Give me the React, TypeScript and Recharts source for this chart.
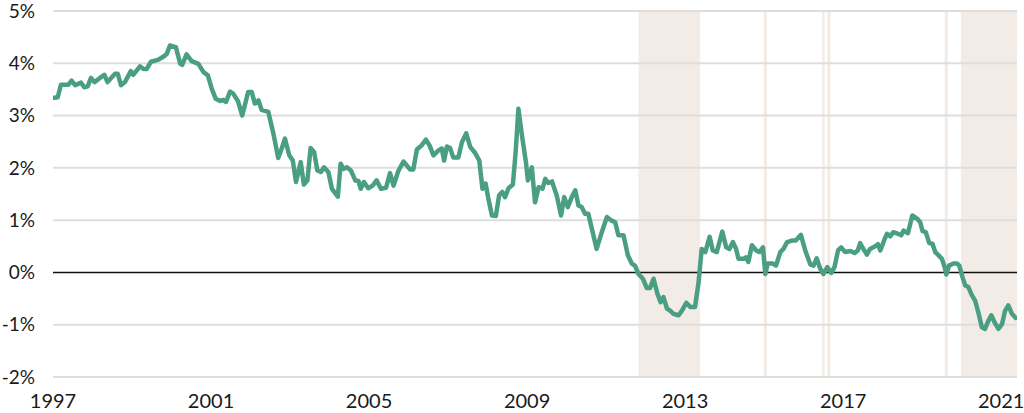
import React from 'react';
import { LineChart, Line, XAxis, YAxis, ReferenceLine, ReferenceArea } from 'recharts';

const years = [
  1997.03, 1997.12, 1997.20, 1997.39, 1997.47, 1997.56, 1997.71, 1997.79, 1997.88, 1997.96,
  1998.05, 1998.19, 1998.30, 1998.38, 1998.57, 1998.64, 1998.72, 1998.82, 1998.97, 1999.03,
  1999.20, 1999.29, 1999.37, 1999.48, 1999.67, 1999.82, 1999.88, 1999.96, 2000.11, 2000.22,
  2000.27, 2000.38, 2000.51, 2000.68, 2000.81, 2000.92, 2001.02, 2001.12, 2001.23, 2001.31,
  2001.38, 2001.48, 2001.56, 2001.68, 2001.79, 2001.94, 2002.03, 2002.11, 2002.20, 2002.28,
  2002.45, 2002.58, 2002.70, 2002.79, 2002.87, 2002.98, 2003.07, 2003.15, 2003.27, 2003.35,
  2003.44, 2003.52, 2003.61, 2003.69, 2003.78, 2003.86, 2003.97, 2004.06, 2004.21, 2004.28,
  2004.35, 2004.44, 2004.54, 2004.65, 2004.73, 2004.79, 2004.87, 2004.98, 2005.09, 2005.19,
  2005.30, 2005.43, 2005.53, 2005.62, 2005.74, 2005.87, 2006.04, 2006.12, 2006.21, 2006.33,
  2006.44, 2006.53, 2006.63, 2006.75, 2006.84, 2006.90, 2006.97, 2007.05, 2007.13, 2007.26,
  2007.35, 2007.46, 2007.56, 2007.68, 2007.79, 2007.87, 2007.95, 2008.02, 2008.11, 2008.21,
  2008.29, 2008.37, 2008.44, 2008.53, 2008.64, 2008.71, 2008.78, 2008.87, 2008.97, 2009.02,
  2009.12, 2009.20, 2009.29, 2009.39, 2009.46, 2009.54, 2009.63, 2009.75, 2009.86, 2009.94,
  2010.03, 2010.13, 2010.22, 2010.30, 2010.38, 2010.47, 2010.55, 2010.76, 2010.89, 2011.02,
  2011.14, 2011.23, 2011.31, 2011.44, 2011.55, 2011.65, 2011.73, 2011.82, 2011.93, 2012.03,
  2012.11, 2012.20, 2012.30, 2012.38, 2012.45, 2012.54, 2012.62, 2012.70, 2012.83, 2012.92,
  2013.03, 2013.13, 2013.25, 2013.34, 2013.42, 2013.51, 2013.62, 2013.70, 2013.80, 2013.94,
  2014.04, 2014.12, 2014.21, 2014.29, 2014.35, 2014.48, 2014.54, 2014.60, 2014.69, 2014.80,
  2014.88, 2014.97, 2015.03, 2015.09, 2015.22, 2015.30, 2015.41, 2015.49, 2015.58, 2015.70,
  2015.80, 2015.93, 2016.04, 2016.17, 2016.25, 2016.33, 2016.42, 2016.50, 2016.60, 2016.70,
  2016.78, 2016.87, 2016.95, 2017.05, 2017.18, 2017.29, 2017.37, 2017.43, 2017.51, 2017.60,
  2017.68, 2017.81, 2017.88, 2017.94, 2018.05, 2018.11, 2018.19, 2018.27, 2018.38, 2018.47,
  2018.53, 2018.64, 2018.75, 2018.87, 2018.95, 2019.01, 2019.09, 2019.18, 2019.26, 2019.33,
  2019.41, 2019.50, 2019.57, 2019.61, 2019.68, 2019.79, 2019.88, 2019.94, 2020.02, 2020.09,
  2020.17, 2020.26, 2020.34, 2020.43, 2020.51, 2020.59, 2020.66, 2020.75, 2020.83, 2020.93,
  2021.02, 2021.10, 2021.18, 2021.27, 2021.37,
];

const rates = [
  3.34, 3.35, 3.59, 3.59, 3.67, 3.58, 3.63, 3.54, 3.56, 3.72,
  3.64, 3.72, 3.78, 3.64, 3.80, 3.80, 3.58, 3.64, 3.85, 3.78,
  3.94, 3.89, 3.89, 4.03, 4.07, 4.14, 4.18, 4.34, 4.31, 3.99,
  3.97, 4.17, 4.04, 3.99, 3.83, 3.77, 3.51, 3.32, 3.28, 3.30,
  3.26, 3.46, 3.42, 3.28, 3.00, 3.45, 3.45, 3.23, 3.29, 3.11,
  3.07, 2.65, 2.19, 2.37, 2.56, 2.24, 2.14, 1.73, 2.11, 1.68,
  1.76, 2.38, 2.30, 1.95, 1.92, 2.01, 1.92, 1.60, 1.45, 2.08,
  1.98, 2.01, 1.95, 1.76, 1.75, 1.60, 1.73, 1.61, 1.66, 1.76,
  1.60, 1.62, 1.90, 1.66, 1.94, 2.12, 1.97, 1.97, 2.35, 2.43,
  2.54, 2.43, 2.24, 2.33, 2.37, 2.14, 2.41, 2.38, 2.20, 2.20,
  2.49, 2.66, 2.40, 2.29, 2.14, 1.60, 1.70, 1.41, 1.09, 1.08,
  1.47, 1.54, 1.44, 1.61, 1.68, 2.30, 3.13, 2.62, 2.11, 1.76,
  2.01, 1.34, 1.63, 1.60, 1.79, 1.71, 1.74, 1.47, 1.09, 1.44,
  1.25, 1.44, 1.57, 1.28, 1.25, 1.12, 1.12, 0.45, 0.77, 1.06,
  0.99, 0.96, 0.71, 0.71, 0.33, 0.17, 0.13, -0.03, -0.12, -0.30,
  -0.30, -0.12, -0.41, -0.57, -0.47, -0.69, -0.73, -0.79, -0.82, -0.73,
  -0.58, -0.66, -0.66, -0.19, 0.45, 0.39, 0.68, 0.42, 0.39, 0.78,
  0.48, 0.45, 0.58, 0.45, 0.26, 0.26, 0.29, 0.20, 0.52, 0.42,
  0.39, 0.48, -0.03, 0.17, 0.17, 0.13, 0.39, 0.45, 0.58, 0.61,
  0.61, 0.72, 0.42, 0.15, 0.13, 0.27, 0.07, -0.03, 0.10, -0.01,
  0.10, 0.42, 0.48, 0.39, 0.41, 0.37, 0.42, 0.56, 0.45, 0.34,
  0.45, 0.50, 0.54, 0.42, 0.64, 0.74, 0.69, 0.77, 0.74, 0.71,
  0.80, 0.75, 1.09, 1.03, 0.96, 0.79, 0.77, 0.56, 0.55, 0.39,
  0.33, 0.26, 0.10, -0.04, 0.13, 0.17, 0.17, 0.13, -0.09, -0.25,
  -0.28, -0.44, -0.54, -0.79, -1.05, -1.08, -0.95, -0.82, -0.95, -1.08,
  -0.99, -0.73, -0.63, -0.79, -0.87,
];

// Periods shaded in the chart (start / end, decimal years)
const shadeStart = [2011.82, 2014.99, 2016.47, 2016.60, 2019.57, 2019.98];
const shadeEnd = [2013.38, 2015.07, 2016.53, 2016.68, 2019.65, 2021.4];

const xTicks = [1997, 2001, 2005, 2009, 2013, 2017, 2021];
const yTicks = [-2, -1, 0, 1, 2, 3, 4, 5];

const data = years.map((t, i) => ({ t, v: rates[i] }));

const FONT = 'Lato, "Open Sans", sans-serif';

export default function App() {
  return (
    <div style={{ position: 'absolute', left: 0, top: 0, width: 1024, height: 413, background: '#fff' }}>
      <LineChart width={1024} height={413} data={data} margin={{ top: 11, right: 7, bottom: 0, left: 0 }}>
        {shadeStart.map((s, i) => (
          <ReferenceArea key={`a${i}`} x1={s} x2={shadeEnd[i]} y1={-2} y2={5} fill="#f3ebe5" fillOpacity={1} stroke="none" ifOverflow="hidden" />
        ))}
        {yTicks.filter((y) => y !== 0).map((y) => (
          <ReferenceLine key={`g${y}`} y={y} stroke="#dedede" strokeWidth={2} />
        ))}
        <XAxis
          dataKey="t"
          type="number"
          domain={[1997, 2021.4]}
          ticks={xTicks}
          allowDataOverflow
          axisLine={false}
          tickLine={false}
          tickSize={0}
          tickMargin={17}
          height={36}
          tick={{ fill: '#1a1a1a', fontSize: 20, fontFamily: FONT }}
          interval={0}
        />
        <YAxis
          type="number"
          domain={[-2, 5]}
          ticks={yTicks}
          tickFormatter={(v: number) => `${v}%`}
          axisLine={false}
          tickLine={false}
          tickSize={0}
          tickMargin={18}
          width={53}
          tick={{ fill: '#1a1a1a', fontSize: 19, fontFamily: FONT }}
          interval={0}
        />
        <ReferenceLine y={0} stroke="#111" strokeWidth={1.5} />
        <Line
          type="linear"
          dataKey="v"
          stroke="#4a9e84"
          strokeWidth={4.5}
          dot={false}
          strokeLinejoin="round"
          strokeLinecap="round"
          isAnimationActive={false}
        />
      </LineChart>
    </div>
  );
}
